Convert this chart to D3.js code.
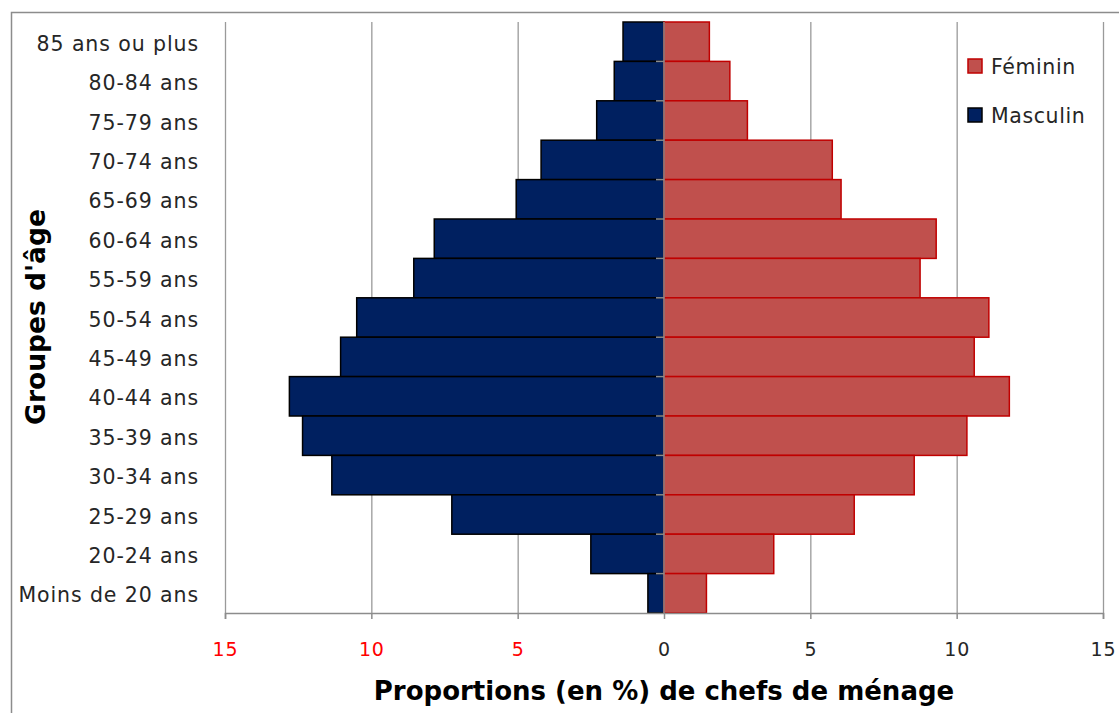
<!DOCTYPE html>
<html>
<head>
<meta charset="utf-8">
<script src="https://cdn.jsdelivr.net/npm/d3@7"></script>
<style>
  body { margin: 0; background: #fff; }
  svg { display: block; font-family: "DejaVu Sans", sans-serif; }
</style>
</head>
<body>
<svg></svg>
<script>
const width = 1119;
const height = 713;

// age groups, top to bottom
const groupes = ["85 ans ou plus", "80-84 ans", "75-79 ans", "70-74 ans", "65-69 ans",
    "60-64 ans", "55-59 ans", "50-54 ans", "45-49 ans", "40-44 ans", "35-39 ans",
    "30-34 ans", "25-29 ans", "20-24 ans", "Moins de 20 ans"];
const masculin = [1.4, 1.7, 2.3, 4.2, 5.05, 7.85, 8.55, 10.5, 11.05, 12.8, 12.35, 11.35, 7.25, 2.5, 0.55];
const feminin = [1.55, 2.25, 2.85, 5.75, 6.05, 9.3, 8.75, 11.1, 10.6, 11.8, 10.35, 8.55, 6.5, 3.75, 1.45];
const xTicks = [-15, -10, -5, 0, 5, 10, 15];

let svg = d3.select("svg")
    .attr("width", width)
    .attr("height", height);

// outer frame
svg.append("rect")
    .attr("x", 11.5)
    .attr("y", 12.5)
    .attr("width", width)
    .attr("height", height)
    .style("fill", "none")
    .style("stroke", "#8c8c8c")
    .style("stroke-width", 1.5);

const x = d3.scaleLinear()
    .domain([-15, 15])
    .range([225, 1103]);

const y = d3.scaleBand()
    .domain(groupes)
    .range([22, 613])
    .padding(0);

// vertical gridlines
svg.append("g")
    .selectAll("line")
    .data(xTicks)
    .join("line")
    .attr("x1", d => x(d) + 0.5)
    .attr("x2", d => x(d) + 0.5)
    .attr("y1", 22)
    .attr("y2", 613)
    .style("stroke", "#9a9a9a")
    .style("stroke-width", 1.3);

// bars
svg.append("g")
    .selectAll("rect")
    .data(groupes)
    .join("rect")
    .attr("x", (d, i) => x(-masculin[i]))
    .attr("y", d => y(d))
    .attr("width", (d, i) => x(0) - x(-masculin[i]))
    .attr("height", y.bandwidth())
    .style("fill", "#002060")
    .style("stroke", "#000")
    .style("stroke-width", 1.5);

svg.append("g")
    .selectAll("rect")
    .data(groupes)
    .join("rect")
    .attr("x", x(0))
    .attr("y", d => y(d))
    .attr("width", (d, i) => x(feminin[i]) - x(0))
    .attr("height", y.bandwidth())
    .style("fill", "#c0504d")
    .style("stroke", "#c00000")
    .style("stroke-width", 1.5);

// category axis on zero
let yAxis = svg.append("g")
    .attr("transform", `translate(${x(0)},0)`);
yAxis.append("line")
    .attr("y1", 22)
    .attr("y2", 613)
    .style("stroke", "#8c8c8c")
    .style("stroke-width", 1.5);
yAxis.selectAll(".tk")
    .data(groupes.slice(1))
    .join("line")
    .attr("class", "tk")
    .attr("x1", -8)
    .attr("x2", 0)
    .attr("y1", d => y(d))
    .attr("y2", d => y(d))
    .style("stroke", "#8c8c8c")
    .style("stroke-width", 1.5);

// category labels
svg.append("g")
    .selectAll("text")
    .data(groupes)
    .join("text")
    .attr("x", 199)
    .attr("y", d => y(d) + y.bandwidth() / 2 + 2)
    .attr("dy", "0.35em")
    .attr("text-anchor", "end")
    .style("font-size", "20.5px")
    .style("letter-spacing", "0.9px")
    .style("fill", "#262626")
    .text(d => d);

// bottom axis
let xAxis = svg.append("g")
    .attr("transform", "translate(0,613)")
    .call(d3.axisBottom(x).tickValues(xTicks).tickSize(6).tickPadding(24)
        .tickFormat(d => Math.abs(d)));
xAxis.select(".domain").style("stroke", "#8c8c8c").style("stroke-width", 1.5);
xAxis.selectAll(".tick line").style("stroke", "#8c8c8c").style("stroke-width", 1.5);
xAxis.selectAll(".tick text")
    .style("font-family", "DejaVu Sans, sans-serif")
    .style("font-size", "19px")
    .style("letter-spacing", "0.8px")
    .style("fill", d => d < 0 ? "#ff0000" : "#262626");

// titles
svg.append("text")
    .attr("x", 664)
    .attr("y", 700)
    .attr("text-anchor", "middle")
    .style("font-size", "26px")
    .style("font-weight", "bold")
    .style("fill", "#000")
    .text("Proportions (en %) de chefs de ménage");

svg.append("text")
    .attr("transform", "translate(45,317) rotate(-90)")
    .attr("text-anchor", "middle")
    .style("font-size", "26.5px")
    .style("font-weight", "bold")
    .style("fill", "#000")
    .text("Groupes d'âge");

// legend
const legend = [
    {name: "Féminin", fill: "#c0504d", stroke: "#c00000"},
    {name: "Masculin", fill: "#002060", stroke: "#000"}
];
let leg = svg.append("g")
    .selectAll("g")
    .data(legend)
    .join("g")
    .attr("transform", (d, i) => `translate(968,${59 + i * 49})`);
leg.append("rect")
    .attr("width", 14)
    .attr("height", 14)
    .style("fill", d => d.fill)
    .style("stroke", d => d.stroke)
    .style("stroke-width", 1.5);
leg.append("text")
    .attr("x", 23)
    .attr("y", 8)
    .attr("dy", "0.35em")
    .style("font-size", "20.5px")
    .style("letter-spacing", "0.6px")
    .style("fill", "#262626")
    .text(d => d.name);
</script>
</body>
</html>
